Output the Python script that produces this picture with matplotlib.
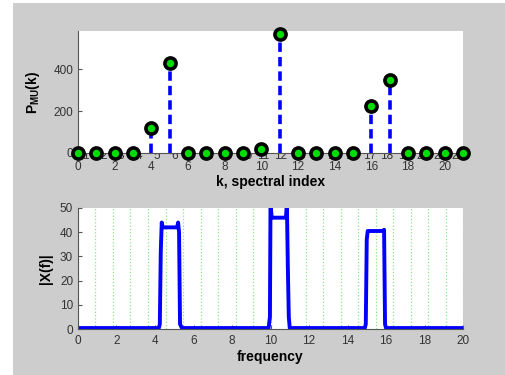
import numpy as np
import matplotlib
matplotlib.use("Agg")
import matplotlib.pyplot as plt
from matplotlib.patches import Rectangle

plt.rcParams['font.family'] = 'Liberation Sans'
plt.rcParams['mathtext.fontset'] = 'custom'
plt.rcParams['mathtext.bf'] = 'Liberation Sans:bold'
plt.rcParams['mathtext.rm'] = 'Liberation Sans'

# spectral index / power values (top)
k_idx = list(range(22))
p_mu = [0, 0, 0, 0, 120, 430, 0, 0, 0, 0, 17, 570,
        0, 0, 0, 0, 225, 350, 0, 0, 0, 0]
k_ticks = [0, 2, 4, 6, 8, 10, 12, 14, 16, 18, 20]
ghost_ticks = list(range(1, 23))

# spectrum magnitude (bottom)
freq = [0, 4.2, 4.25, 4.3, 4.35, 4.4, 5.15, 5.2, 5.25, 5.3, 5.4,
        9.9, 9.97, 10.0, 10.05, 10.1, 10.8, 10.85, 10.9, 10.95, 11.0,
        14.9, 14.95, 15.0, 15.05, 15.85, 15.9, 15.95, 16.0, 20]
mag = [0.4, 0.4, 2, 32, 44, 42, 42, 44, 40, 2, 0.4,
       0.4, 5, 52, 47, 46, 46, 52, 26, 5, 0.4,
       0.4, 2, 37, 40.5, 40.5, 41, 2, 0.4, 0.4]
f_ticks = [0, 2, 4, 6, 8, 10, 12, 14, 16, 18, 20]
grid_pos = np.arange(23) * 20 / 22

W, H = 506, 375
bg = '#cdcdcd'
tick_c = '#333333'
fig = plt.figure(figsize=(W / 100, H / 100), dpi=100, facecolor=bg)
fig.patches.append(Rectangle((0, 0), 13 / W, 1, transform=fig.transFigure,
                             facecolor='white', edgecolor='none', zorder=-10))
fig.patches.append(Rectangle((0, 1 - 3 / H), 1, 3 / H, transform=fig.transFigure,
                             facecolor='white', edgecolor='none', zorder=-10))

def px(x0, y0, x1, y1):
    return [x0 / W, 1 - y1 / H, (x1 - x0) / W, (y1 - y0) / H]

# ghost tick row seen behind the points
axg = fig.add_axes(px(68, 100, 458, 149), zorder=1)
axg.set_xlim(0, 22)
axg.patch.set_visible(False)
for s in axg.spines.values():
    s.set_visible(False)
axg.set_yticks([])
axg.set_xticks(ghost_ticks)
axg.tick_params(axis='x', length=0, pad=1, labelsize=8.5, labelcolor=tick_c)

# top stem plot
ax1 = fig.add_axes(px(78, 31, 463, 153), zorder=2)
ax1.set_xlim(0, 21)
ax1.set_ylim(0, 582)
ml, sl, bl = ax1.stem(k_idx, p_mu, linefmt='b--', markerfmt='o', basefmt=' ')
sl.set_linewidth(2.6)
sl.set_color('#0000ff')
sl.set_linestyle((0, (2.6, 1.4)))
ml.set_markersize(8)
ml.set_markerfacecolor('#00dd00')
ml.set_markeredgecolor('black')
ml.set_markeredgewidth(2.6)
ml.set_clip_on(False)
ml.set_zorder(5)
ax1.set_xticks(k_ticks)
ax1.set_yticks([0, 200, 400])
ax1.tick_params(direction='in', length=3, labelsize=8.5, labelcolor=tick_c, color='#555555')
ax1.tick_params(axis='x', pad=5.5)
for s in ['top', 'right']:
    ax1.spines[s].set_visible(False)
for s in ['left', 'bottom']:
    ax1.spines[s].set_color('#555555')
ax1.set_xlabel('k, spectral index', fontsize=10, fontweight='bold', labelpad=2)
ax1.set_ylabel(r'$\mathbf{P}_{\mathbf{MU}}\mathbf{(k)}$', fontsize=10, labelpad=8)

# bottom spectrum
ax2 = fig.add_axes(px(78, 208, 463, 329), zorder=2)
ax2.set_xlim(0, 20)
ax2.set_ylim(0, 50)
for g in grid_pos:
    ax2.axvline(g, color='#88e888', linestyle=':', linewidth=0.9, zorder=0)
ax2.plot(freq, mag, color='#0000ff', linewidth=2.8, solid_joinstyle='round')
ax2.set_xticks(f_ticks)
ax2.set_yticks([0, 10, 20, 30, 40, 50])
ax2.tick_params(direction='in', length=3, labelsize=8.5, labelcolor=tick_c, color='#555555')
ax2.tick_params(axis='x', pad=4.5)
for s in ['top', 'right']:
    ax2.spines[s].set_visible(False)
for s in ['left', 'bottom']:
    ax2.spines[s].set_color('#555555')
ax2.set_xlabel('frequency', fontsize=10, fontweight='bold', labelpad=2)
ax2.set_ylabel('|X(f)|', fontsize=10, fontweight='bold', labelpad=5)

fig.savefig('out.png', dpi=100, facecolor=bg)
